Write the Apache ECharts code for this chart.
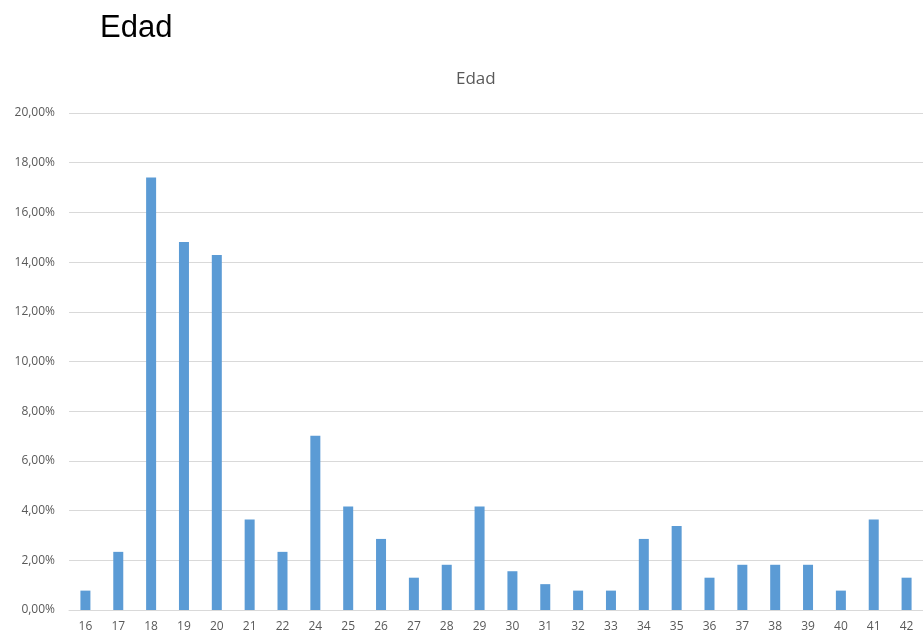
<!DOCTYPE html>
<html>
<head>
<meta charset="utf-8">
<script src="https://cdn.jsdelivr.net/npm/echarts@6/dist/echarts.min.js"></script>
<style>
  html, body { margin: 0; padding: 0; background: #fff; }
  #chart { width: 923px; height: 633px; }
</style>
</head>
<body>
<div id="chart"></div>
<script>
// Age groups (years) and share of respondents in each, in percent
const ages = ['16','17','18','19','20','21','22','24','25','26','27','28','29','30','31','32','33','34','35','36','37','38','39','40','41','42'];
const shares = [0.78, 2.34, 17.40, 14.81, 14.29, 3.64, 2.34, 7.01, 4.16, 2.86, 1.30, 1.82, 4.16, 1.56, 1.04, 0.78, 0.78, 2.86, 3.38, 1.30, 1.82, 1.82, 1.82, 0.78, 3.64, 1.30];
const yMin = 0, yMax = 20, yStep = 2;

const chart = echarts.init(document.getElementById('chart'));
const labelFont = '"Open Sans", "Liberation Sans", sans-serif';

chart.setOption({
  animation: false,
  backgroundColor: '#ffffff',
  title: [
    {
      text: 'Edad',
      left: 95,
      top: 8,
      textStyle: { fontFamily: '"Liberation Sans", Arial, sans-serif', fontSize: 31, fontWeight: 'normal', color: '#000000' }
    },
    {
      text: 'Edad',
      left: 451,
      top: 66,
      textStyle: { fontFamily: labelFont, fontSize: 17, fontWeight: 'normal', color: '#595959' }
    }
  ],
  grid: { left: 69, top: 113, width: 858, height: 498, containLabel: false },
  xAxis: {
    type: 'category',
    data: ages,
    axisLine: { lineStyle: { color: '#d9d9d9', width: 1 } },
    axisTick: { show: false },
    axisLabel: { color: '#595959', fontFamily: labelFont, fontSize: 12, margin: 11, interval: 0 }
  },
  yAxis: {
    type: 'value',
    min: yMin,
    max: yMax,
    interval: yStep,
    axisLine: { show: false },
    axisTick: { show: false },
    splitLine: { lineStyle: { color: '#d9d9d9', width: 1 } },
    axisLabel: {
      color: '#595959',
      fontFamily: labelFont,
      fontSize: 12,
      margin: 14,
      formatter: v => v.toFixed(2).replace('.', ',') + '%'
    }
  },
  series: [{
    type: 'bar',
    data: shares,
    barWidth: 10,
    itemStyle: { color: '#5b9bd5' }
  }]
});
</script>
</body>
</html>
